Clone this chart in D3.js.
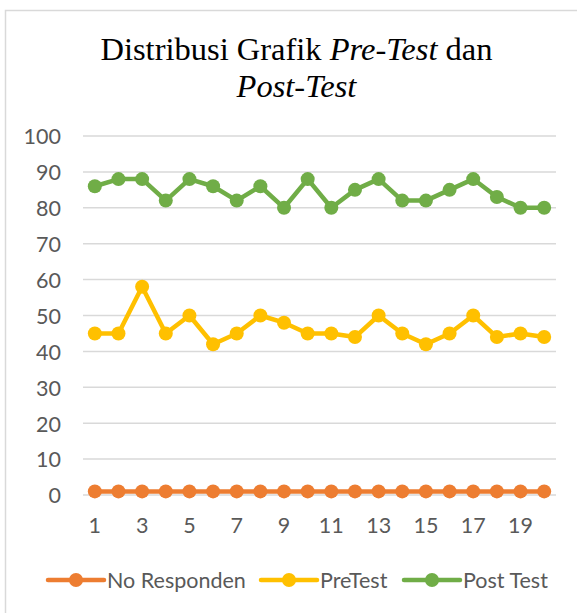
<!DOCTYPE html>
<html>
<head>
<meta charset="utf-8">
<script src="https://cdn.jsdelivr.net/npm/d3@7"></script>
<style>
  body { margin: 0; background: #fff; }
  svg { display: block; }
</style>
</head>
<body>
<div id="chart"></div>
<script>
var categories = d3.range(1, 21);
var tickLabels = [1, 3, 5, 7, 9, 11, 13, 15, 17, 19];
var yTicks = [0, 10, 20, 30, 40, 50, 60, 70, 80, 90, 100];

var noResponden = [1, 1, 1, 1, 1, 1, 1, 1, 1, 1, 1, 1, 1, 1, 1, 1, 1, 1, 1, 1];
var preTest = [45, 45, 58, 45, 50, 42, 45, 50, 48, 45, 45, 44, 50, 45, 42, 45, 50, 44, 45, 44];
var postTest = [86, 88, 88, 82, 88, 86, 82, 86, 80, 88, 80, 85, 88, 82, 82, 85, 88, 83, 80, 80];

var seriesNames = ['No Responden', 'PreTest', 'Post Test'];
var seriesColors = ['#ED7D31', '#FFC000', '#70AD47'];

var width = 577, height = 613;

var svg = d3.select('#chart').append('svg')
    .attr('width', width)
    .attr('height', height);

// chart frame
svg.append('rect')
    .attr('x', 5.5).attr('y', 10.5)
    .attr('width', 600).attr('height', 700)
    .attr('fill', '#fff')
    .attr('stroke', '#D9D9D9')
    .attr('stroke-width', 1.5);

// title
var title = svg.append('text')
    .attr('text-anchor', 'middle')
    .attr('font-family', '"Liberation Serif", "Times New Roman", serif')
    .attr('font-size', 32.5)
    .attr('fill', '#000');
var t1 = title.append('tspan').attr('x', 296.5).attr('y', 60);
t1.append('tspan').text('Distribusi Grafik ');
t1.append('tspan').attr('font-style', 'italic').text('Pre-Test');
t1.append('tspan').text(' dan');
title.append('tspan').attr('x', 296.5).attr('y', 97)
    .attr('font-style', 'italic').text('Post-Test');

var plot = { left: 83, right: 556, top: 136, bottom: 495 };

var x = d3.scaleBand()
    .domain(categories)
    .range([plot.left, plot.right])
    .padding(0);

var y = d3.scaleLinear()
    .domain([0, 100])
    .range([plot.bottom, plot.top]);

// gridlines
svg.append('g')
    .selectAll('line')
    .data(yTicks)
    .enter()
    .append('line')
    .attr('x1', plot.left).attr('x2', plot.right)
    .attr('y1', function(d){ return y(d); })
    .attr('y2', function(d){ return y(d); })
    .attr('stroke', '#D9D9D9')
    .attr('stroke-width', 1.5);

var labelFont = 'Lato, "Open Sans", sans-serif';
var labelSize = 21.5;

// y axis labels
var yAxis = d3.axisLeft(y).tickValues(yTicks).tickSize(0).tickPadding(0);
svg.append('g')
    .attr('transform', 'translate(61,1)')
    .call(yAxis)
    .call(function(g){
        g.select('.domain').remove();
        g.selectAll('text')
            .attr('font-family', labelFont)
            .attr('font-size', labelSize)
            .attr('fill', '#595959');
    });

// x axis labels
var xAxis = d3.axisBottom(x).tickValues(tickLabels).tickSize(0).tickPadding(0);
svg.append('g')
    .attr('transform', 'translate(0,518)')
    .call(xAxis)
    .call(function(g){
        g.select('.domain').remove();
        g.selectAll('text')
            .attr('font-family', labelFont)
            .attr('font-size', labelSize)
            .attr('fill', '#595959');
    });

var series = [noResponden, preTest, postTest];

var line = d3.line()
    .x(function(d, i){ return x(categories[i]) + x.bandwidth() / 2; })
    .y(function(d){ return y(d); });

series.forEach(function(values, s){
    var g = svg.append('g');
    g.append('path')
        .datum(values)
        .attr('d', line)
        .attr('fill', 'none')
        .attr('stroke', seriesColors[s])
        .attr('stroke-width', 4.5)
        .attr('stroke-linejoin', 'round');
    g.selectAll('circle')
        .data(values)
        .enter()
        .append('circle')
        .attr('cx', function(d, i){ return x(categories[i]) + x.bandwidth() / 2; })
        .attr('cy', function(d){ return y(d); })
        .attr('r', 7)
        .attr('fill', seriesColors[s]);
});

// legend
var legendX = [48, 261, 404];
var legend = svg.append('g');
seriesNames.forEach(function(name, i){
    var lg = legend.append('g').attr('transform', 'translate(' + legendX[i] + ',580)');
    lg.append('line')
        .attr('x1', 0).attr('x2', 56)
        .attr('stroke', seriesColors[i])
        .attr('stroke-width', 4.5)
        .attr('stroke-linecap', 'round');
    lg.append('circle')
        .attr('cx', 28).attr('r', 7)
        .attr('fill', seriesColors[i]);
    lg.append('text')
        .attr('x', 59)
        .attr('dy', '0.35em')
        .attr('font-family', labelFont)
        .attr('font-size', labelSize)
        .attr('fill', '#595959')
        .text(name);
});
</script>
</body>
</html>
